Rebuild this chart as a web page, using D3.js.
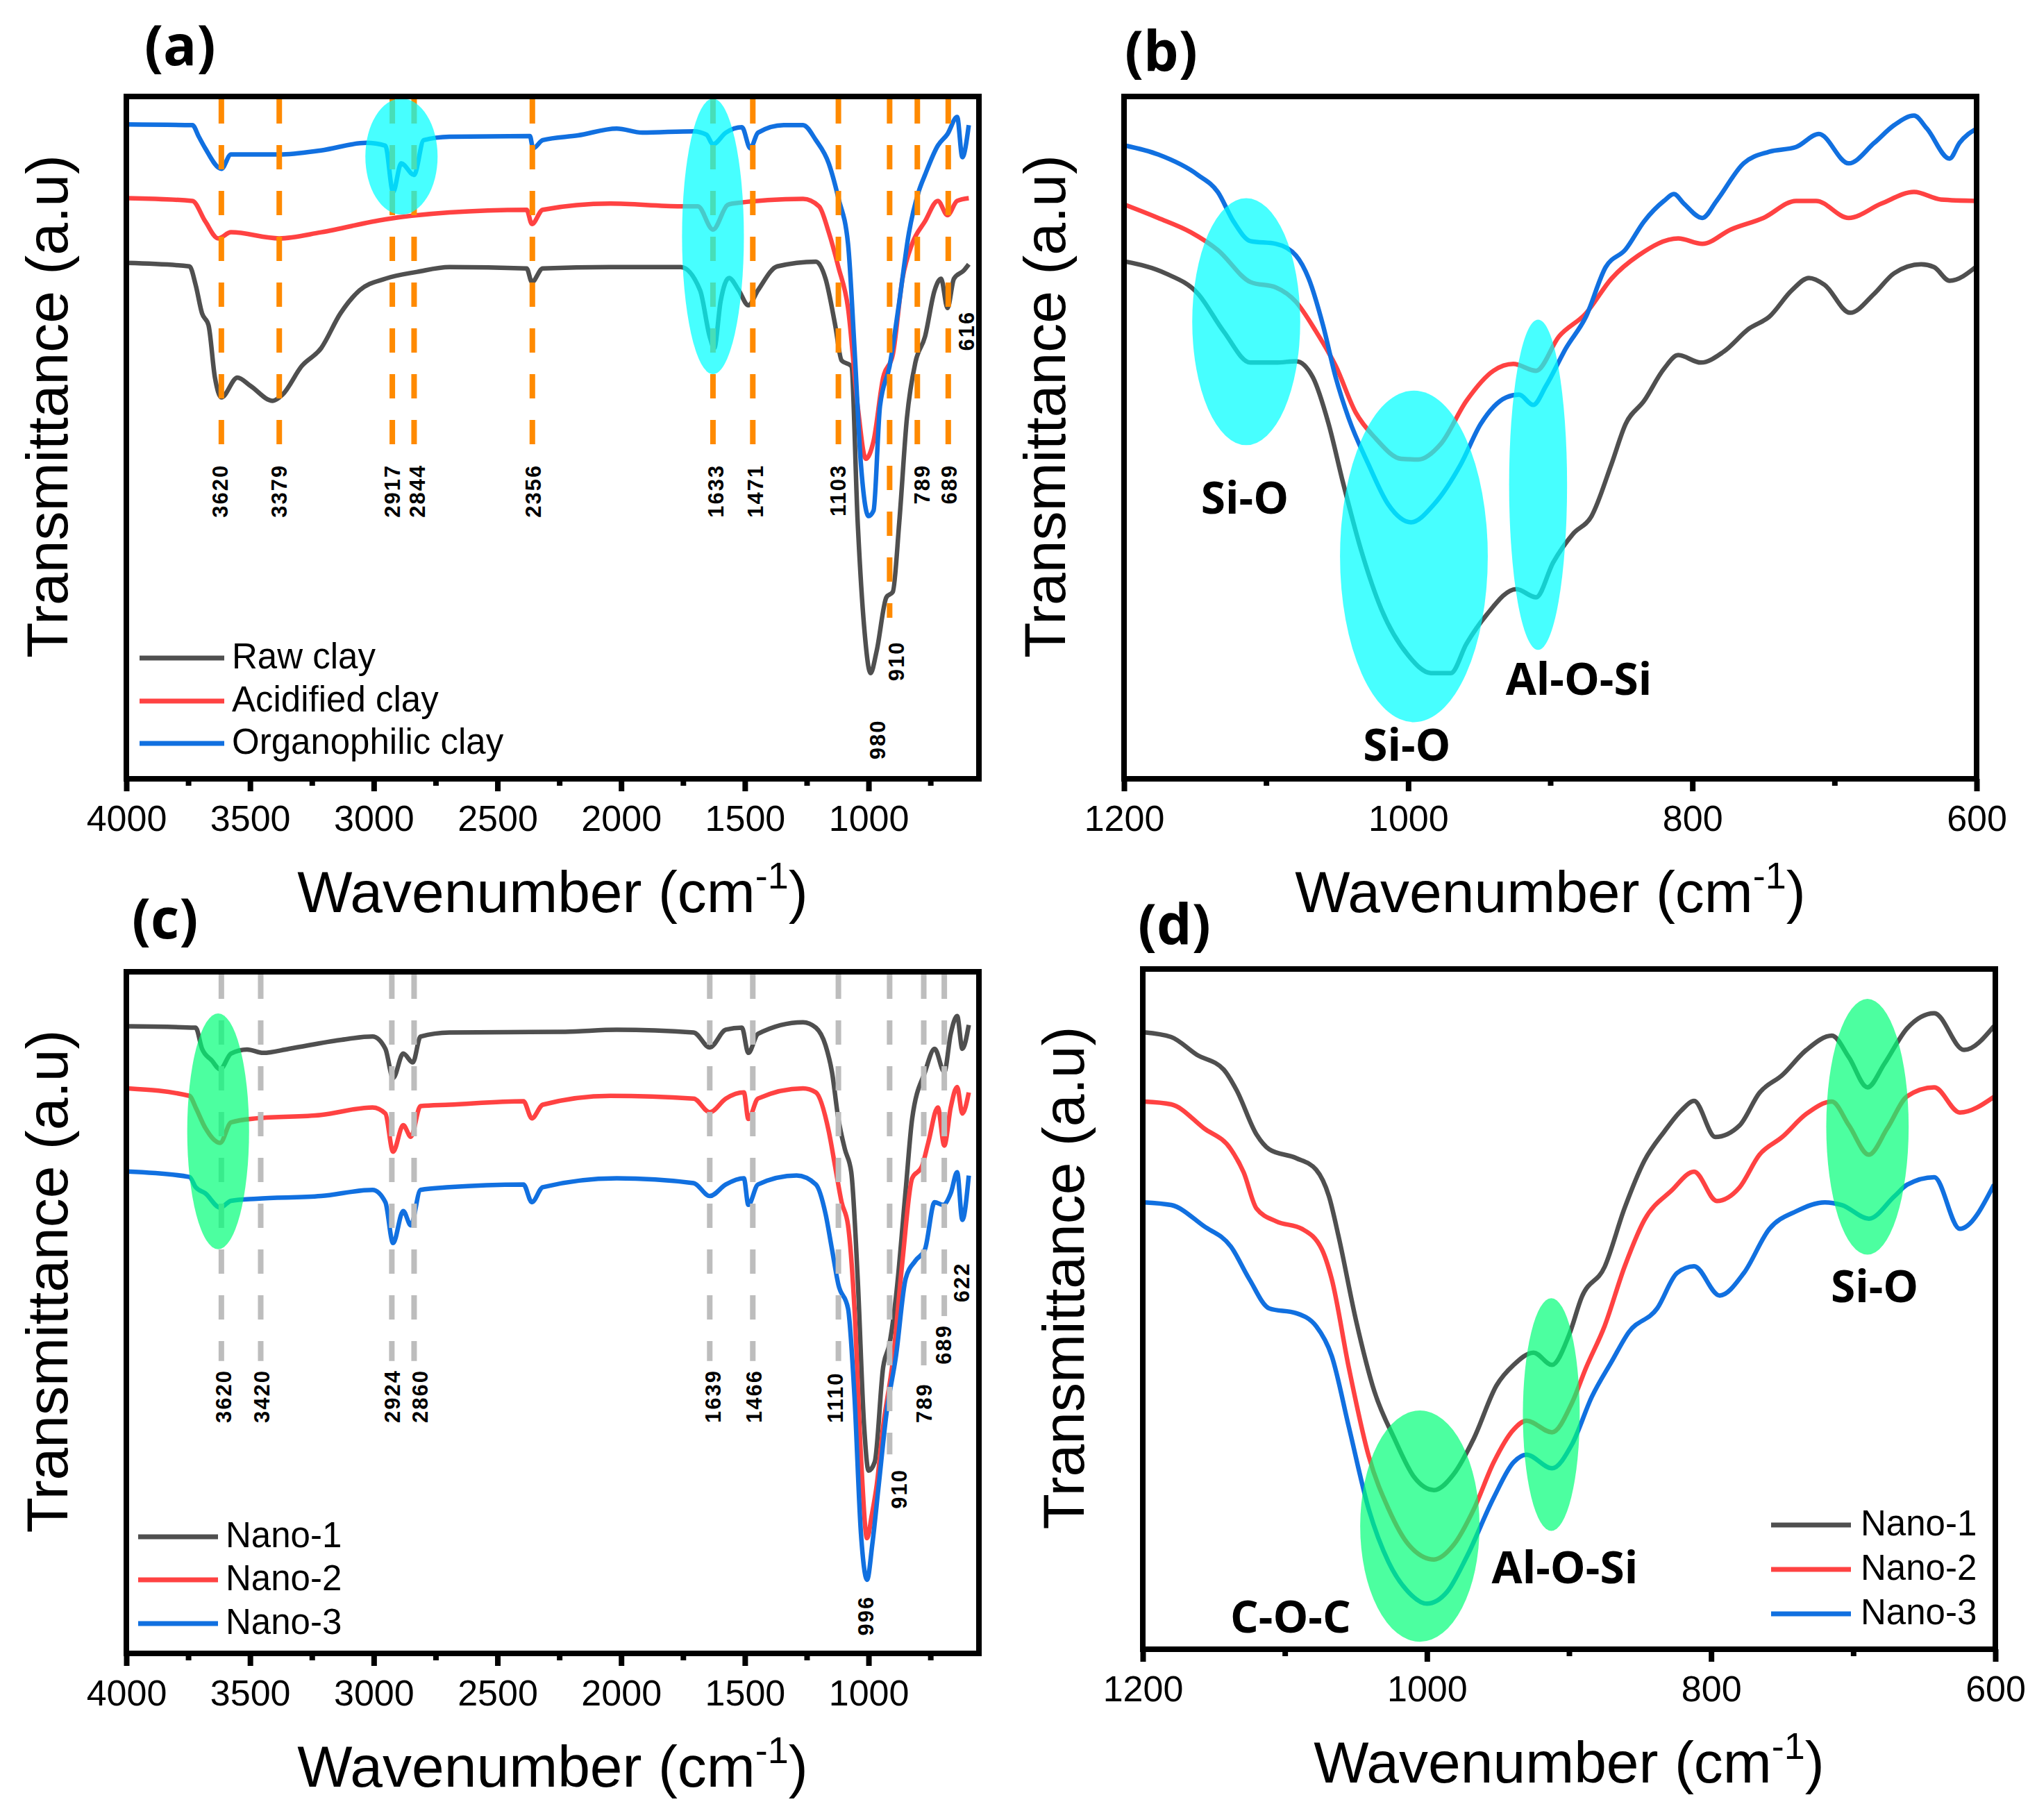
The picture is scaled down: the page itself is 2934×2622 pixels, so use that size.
<!DOCTYPE html>
<html>
<head>
<meta charset="utf-8">
<script src="https://cdnjs.cloudflare.com/ajax/libs/d3/7.8.5/d3.min.js"></script>
<style>
  body { margin: 0; background: #fff; }
  svg { display: block; }
</style>
</head>
<body>
<div id="chart"></div>
<script>
// ---------- data: [wavenumber, transmittance (a.u., 0 = frame bottom, 100 = frame top)] ----------

// (a) clays, full range
const rawClayA = [[3995,75.6],[3745,75.1],[3720,72.4],[3694,68.2],[3668,66.5],[3642,58.8],[3616,55.9],[3551,58.8],[3499,57.6],[3408,55.4],[3369,56.3],[3291,60.5],[3213,63.1],[3135,68.2],[3057,71.6],[2953,73.3],[2824,74.3],[2694,75],[2382,74.8],[2361,72.8],[2317,74.8],[2044,75],[1759,75],[1681,71.6],[1642,64.8],[1624,63.1],[1598,70],[1564,73.4],[1525,71.6],[1486,69.4],[1447,71.6],[1369,75.1],[1213,75.8],[1174,73.3],[1135,66.5],[1109,61.3],[1070,60.5],[1044,37.6],[1018,22.3],[992,15.5],[967,18.8],[928,26.6],[902,27.4],[876,37.6],[845,52.9],[811,61],[772,64.8],[733,71.6],[707,73.3],[681,69],[655,73.3],[615,74.5],[595,75.4]];
const acidClayA = [[3995,85.1],[3733,84.7],[3681,81.7],[3629,79.2],[3577,80.1],[3382,79.2],[3213,80.1],[2953,82],[2694,83],[2382,83.4],[2361,81.3],[2317,83.4],[2044,84.3],[1759,83.9],[1690,83.9],[1629,80.5],[1570,84.1],[1551,84.3],[1265,85],[1200,83.9],[1161,80.1],[1122,75],[1083,69],[1044,54.6],[1011,46.9],[980,49.5],[941,58.8],[902,62.2],[863,73.3],[824,78.4],[772,81.7],[720,84.7],[681,82.6],[642,84.7],[595,85.1]];
const orgClayA = [[3995,95.9],[3733,95.8],[3707,94.1],[3681,92.4],[3616,89.4],[3577,91.5],[3473,91.5],[3382,91.5],[3213,92.1],[3031,93.2],[2953,92.8],[2922,86],[2889,90.2],[2837,88.5],[2798,93.6],[2694,94.1],[2369,94.2],[2356,92.4],[2317,93.6],[2174,94.3],[2018,95.3],[1915,94.7],[1707,94.9],[1655,94.4],[1629,93],[1577,94.7],[1512,95.5],[1478,92.4],[1447,94.7],[1343,95.8],[1265,95.8],[1213,93.6],[1161,90.2],[1122,85.1],[1083,78.4],[1057,63.1],[1031,46.1],[1000,38.5],[980,39.3],[954,54.6],[915,60.5],[876,69.9],[837,80],[798,86],[772,88.5],[720,92.8],[681,94.5],[642,97],[621,91.1],[595,95.8]];

// (b) clays, 1200-600
const rawClayB = [[1199,75.8],[1171,74.1],[1148,71.1],[1130,65.6],[1111,61],[1093,61],[1079,61.2],[1067,58.8],[1056,52],[1046,43.5],[1033,33.4],[1019,24.9],[1000,18.1],[984,15.5],[970,15.5],[959,19.8],[945,24],[924,27.8],[910,26.6],[898,31.7],[884,35.9],[871,38.5],[857,46.1],[847,52],[834,55.4],[820,60.1],[810,62.1],[794,61],[778,62.6],[760,66],[746,67.7],[730,71.6],[718,73.4],[707,72.4],[689,68.3],[672,71.1],[658,74.1],[639,75.4],[630,75],[619,73],[600,75.1]];
const acidClayB = [[1199,84.1],[1176,82.2],[1153,80.1],[1134,77.5],[1111,72.8],[1093,72],[1079,69.9],[1065,65.6],[1051,60.5],[1037,53.7],[1023,49.9],[1005,46.9],[993,46.8],[977,49.1],[959,55.4],[940,59.8],[926,60.8],[910,59.8],[894,64.8],[875,68.2],[857,73.3],[838,76.7],[810,79.2],[793,78.4],[773,80.5],[750,82.2],[727,84.7],[713,84.7],[690,82.2],[667,84.3],[644,86],[625,84.9],[600,84.7]];
const orgClayB = [[1199,92.8],[1176,91.5],[1148,88.5],[1134,86],[1123,81.7],[1111,78.8],[1093,78.4],[1079,76.7],[1070,73.3],[1060,66.5],[1051,58.8],[1042,52.9],[1028,46.1],[1014,40.2],[998,37.6],[982,40.2],[963,46.1],[949,52],[931,55.9],[922,56.3],[912,54.8],[903,57.6],[889,63.1],[875,67.7],[861,75],[847,77.6],[834,81.7],[820,84.7],[813,85.7],[806,84.3],[793,82.2],[783,84.7],[764,90.2],[746,91.9],[727,92.6],[711,94.5],[690,90.2],[672,93.2],[658,95.8],[644,97.2],[635,95.3],[619,90.9],[612,93.2],[600,95.3]];

// (c) nanocomposites, full range
const nano1C = [[3995,92],[3720,91.8],[3694,88.7],[3655,87],[3621,85.7],[3577,88],[3512,88.6],[3447,88.1],[3343,88.7],[3135,90],[3005,90.5],[2953,88.7],[2922,84.4],[2881,88],[2842,86.7],[2811,90.5],[2694,91.1],[2226,91.2],[2018,91.5],[1707,91.1],[1642,88.9],[1577,91.5],[1512,91.8],[1486,88.1],[1447,90.9],[1265,92.6],[1213,91.8],[1174,89.2],[1148,85.3],[1122,78.4],[1096,74],[1070,70.6],[1044,55],[1018,33.3],[1000,26.8],[975,28.1],[941,42],[915,45.5],[889,52.4],[850,68],[824,78.4],[772,85.3],[733,88.7],[694,85.3],[668,90.9],[642,93.5],[621,88.7],[595,92.2]];
const nano2C = [[3995,82.9],[3745,81.8],[3720,80.1],[3681,77.1],[3621,74.9],[3577,77.9],[3473,78.5],[3213,79],[3005,80.1],[2953,79.2],[2922,73.6],[2881,77.5],[2850,75.8],[2811,80.3],[2694,80.5],[2395,81],[2361,78.5],[2317,80.5],[2044,81.8],[1707,81.4],[1642,79.4],[1577,81.4],[1504,82.3],[1486,78.4],[1447,81.4],[1265,82.9],[1213,82.3],[1161,76.6],[1135,71.4],[1109,66.2],[1083,62.8],[1057,50.6],[1031,29],[1006,16.9],[987,20.3],[967,24.7],[941,33.3],[902,42.9],[863,57.6],[824,69.7],[785,71.4],[759,74.9],[720,80.1],[694,74.5],[668,80.1],[642,83.1],[621,79.2],[595,82.3]];
const nano3C = [[3995,70.7],[3745,69.9],[3720,68.4],[3681,67.5],[3621,65.4],[3577,66.4],[3473,66.7],[3213,67.1],[3005,68],[2953,66.2],[2922,60.2],[2881,64.9],[2850,62.8],[2811,68],[2694,68.4],[2395,68.8],[2361,66.2],[2317,68.4],[2018,69.7],[1707,69],[1642,67.1],[1577,68.8],[1504,69.7],[1486,65.8],[1447,68.8],[1291,70.1],[1213,68.8],[1174,64.5],[1148,59.3],[1122,54.1],[1083,50.6],[1057,37.7],[1031,17.7],[1006,10.8],[985,16],[959,24.7],[928,35.1],[889,43.7],[850,55],[811,57.6],[772,59.3],[733,66.2],[699,65.8],[668,67.5],[642,70.6],[621,63.6],[595,70.1]];

// (d) nanocomposites, 1200-600
const nano1D = [[1199,90.7],[1180,90],[1162,87.4],[1143,85.2],[1134,82.2],[1120,75.7],[1111,73.5],[1092,72.2],[1078,70.5],[1069,66.6],[1062,60.5],[1050,48.4],[1037,37.9],[1023,31],[1009,25.3],[995,23.4],[981,25.8],[967,31],[951,38.8],[939,41.8],[925,43.6],[912,41.8],[900,46.2],[891,51.8],[875,56.2],[861,64.8],[847,71.8],[833,76.1],[821,79.2],[812,80.6],[797,75.3],[780,77],[766,81.8],[750,84.4],[733,88.1],[715,90.2],[703,87],[690,82.6],[678,86.1],[662,91.3],[643,93.5],[622,88.1],[601,91.6]];
const nano2D = [[1199,80.5],[1180,80.1],[1157,76.6],[1138,73.5],[1129,70.1],[1120,64.8],[1106,62.9],[1088,61.8],[1074,58.8],[1067,54.4],[1055,41.4],[1041,28.4],[1027,20.6],[1013,15.4],[995,13.2],[981,15.4],[967,20.6],[953,27.5],[939,32.3],[930,33.6],[912,31.9],[898,36.2],[888,41.4],[875,47.5],[861,56.2],[847,63.1],[828,67.4],[812,70.2],[796,65.9],[780,67.9],[766,72.7],[750,75.3],[733,78.7],[715,80.5],[703,77],[689,72.7],[676,76.6],[662,81.3],[643,82.6],[625,78.9],[601,81.2]];
const nano3D = [[1199,65.7],[1180,65.3],[1157,62.2],[1138,59.2],[1125,54.4],[1111,50.1],[1092,49.4],[1078,47.5],[1067,43.1],[1055,32.7],[1041,20.6],[1027,12.8],[1013,8.4],[1000,6.7],[986,8.4],[972,13.6],[953,22.3],[939,27.5],[930,28.6],[912,26.6],[898,30.1],[884,37.1],[870,42.3],[858,46.6],[838,50.1],[824,55.3],[812,56.3],[794,52],[777,55.3],[759,61.8],[740,64.4],[720,65.7],[708,65.3],[689,63.3],[671,66.6],[662,68.3],[643,69.4],[625,61.8],[601,68.3]];

// legends
const clayNames = ["Raw clay", "Acidified clay", "Organophilic clay"];
const nanoNames = ["Nano-1", "Nano-2", "Nano-3"];

// dashed marker lines: [wavenumber, value where the dashes stop]
const peakLinesA = [[3616,47.8],[3382,47.8],[2925,47.8],[2837,47.8],[2359,47.8],[1629,47.8],[1468,47.8],[1122,47.8],[915,23.6],[803,47.8],[678,47.8]];
const peakLinesC = [[3616,42.9],[3457,42.9],[2927,42.9],[2837,42.9],[1642,42.9],[1468,42.9],[1122,42.9],[915,29.2],[777,41.5],[694,49.5]];
// peak labels: [wavenumber, value, text]
const peakLabelsA = [[3623,46.1,"3620"],[3382,46.1,"3379"],[2925,46.1,"2917"],[2824,46.1,"2844"],[2356,46.1,"2356"],[1619,46.1,"1633"],[1458,46.1,"1471"],[1123,46.1,"1103"],[889,20.2,"910"],[785,46.1,"789"],[676,46.1,"689"],[964,8.7,"980"],[606,68.6,"616"]];
const peakLabelsC = [[3608,33.8,"3620"],[3452,33.8,"3420"],[2925,33.8,"2924"],[2813,33.8,"2860"],[1629,33.8,"1639"],[1465,33.8,"1466"],[1135,33.8,"1110"],[876,21.2,"910"],[777,33.8,"789"],[699,42.4,"689"],[1011,2.6,"996"],[624,51.5,"622"]];

// highlight ellipses: [centre wavenumber, centre value, half-width (cm-1), half-height (a.u.)]
const cyanA = [[2888,91.2,146,8.5],[1629,79.5,125,20.2]];
const cyanB = [[1114,67,38,18.1],[996,32.6,52,24.3],[908.6,43.1,20.4,24.2]];
const greenC = [[3629,76.6,125,17.3]];
const greenD = [[1005,18.1,42,17],[912.5,34.5,20,17.1],[690,76.8,29,18.8]];

// band assignments: [wavenumber, value (baseline), text]
const bandsB = [[1115,38.9,"Si-O"],[1001,2.6,"Si-O"],[880,12.3,"Al-O-Si"]];
const bandsD = [[1096,2.5,"C-O-C"],[903,9.7,"Al-O-Si"],[685,51,"Si-O"]];

// axis ticks
const fullMajor = [4000,3500,3000,2500,2000,1500,1000];
const fullMinor = [3750,3250,2750,2250,1750,1250,750];
const zoomMajor = [1200,1000,800,600];
const zoomMinor = [1100,900,700];

// ---------- drawing ----------
const W = 2934, H = 2622;
const GRAY = "#4f4f4f", RED = "#ff4242", BLUE = "#1170e0";
const SANS = "Arial, 'Liberation Sans', sans-serif";
const BOLD = "'Open Sans', 'Noto Sans', sans-serif";

const svg = d3.select("#chart").append("svg")
    .attr("width", W)
    .attr("height", H);
svg.append("rect").attr("width", W).attr("height", H).attr("fill", "#fff");

const panels = [
  {tag: "(a)", tagX: 208, tagY: 94, left: 182, right: 1410, top: 139, bottom: 1122, domain: [4000, 554],
   major: fullMajor, minor: fullMinor, series: [rawClayA, acidClayA, orgClayA],
   lines: peakLinesA, lineColor: "#ff8a00", labels: peakLabelsA, labelAnchor: "end",
   blobs: cyanA, blobColor: "#00ffff", blobOpacity: 0.72,
   legend: {names: clayNames, x1: 201, x2: 323, tx: 334, ys: [948, 1010, 1071]}},
  {tag: "(b)", tagX: 1620, tagY: 102, left: 1619, right: 2847, top: 139, bottom: 1122, domain: [1200, 600],
   major: zoomMajor, minor: zoomMinor, series: [rawClayB, acidClayB, orgClayB],
   blobs: cyanB, blobColor: "#00ffff", blobOpacity: 0.72, bands: bandsB},
  {tag: "(c)", tagX: 190, tagY: 1352, left: 182, right: 1410, top: 1400, bottom: 2382, domain: [4000, 554],
   major: fullMajor, minor: fullMinor, series: [nano1C, nano2C, nano3C],
   lines: peakLinesC, lineColor: "#bdbdbd", labels: peakLabelsC, labelAnchor: "start",
   blobs: greenC, blobColor: "#00ff78", blobOpacity: 0.7,
   legend: {names: nanoNames, x1: 199, x2: 314, tx: 325, ys: [2214, 2276, 2339]}},
  {tag: "(d)", tagX: 1639, tagY: 1360, left: 1646, right: 2874, top: 1396, bottom: 2376, domain: [1200, 600],
   major: zoomMajor, minor: zoomMinor, series: [nano1D, nano2D, nano3D],
   blobs: greenD, blobColor: "#00ff78", blobOpacity: 0.7, bands: bandsD,
   legend: {names: nanoNames, x1: 2551, x2: 2666, tx: 2680, ys: [2197, 2261, 2325]}}
];

const seriesColors = [GRAY, RED, BLUE];

panels.forEach(p => {
  const x = d3.scaleLinear().domain(p.domain).range([p.left, p.right]);
  const y = d3.scaleLinear().domain([0, 100]).range([p.bottom, p.top]);
  const g = svg.append("g");

  // spectra
  const line = d3.line()
      .x(d => x(d[0]))
      .y(d => y(d[1]))
      .curve(d3.curveMonotoneX);
  p.series.forEach((s, i) => {
    g.append("path")
        .datum(s)
        .attr("d", line)
        .attr("fill", "none")
        .attr("stroke", seriesColors[i])
        .attr("stroke-width", 6.5)
        .attr("stroke-linejoin", "round");
  });

  // dashed peak markers
  if (p.lines) {
    g.append("g").selectAll("line")
        .data(p.lines)
        .enter()
        .append("line")
        .attr("x1", d => x(d[0]))
        .attr("x2", d => x(d[0]))
        .attr("y1", p.top + 4)
        .attr("y2", d => y(d[1]))
        .attr("stroke", p.lineColor)
        .attr("stroke-width", 8)
        .attr("stroke-dasharray", "35,31");
  }

  // peak labels (rotated)
  if (p.labels) {
    g.append("g").selectAll("text")
        .data(p.labels)
        .enter()
        .append("text")
        .attr("transform", d => `translate(${x(d[0])},${y(d[1])}) rotate(-90)`)
        .attr("dy", "0.36em")
        .attr("text-anchor", p.labelAnchor)
        .attr("font-family", SANS)
        .attr("font-weight", "bold")
        .attr("font-size", 31)
        .attr("letter-spacing", 2)
        .attr("fill", "#000")
        .text(d => d[2]);
  }

  // highlight ellipses
  g.append("g").selectAll("ellipse")
      .data(p.blobs)
      .enter()
      .append("ellipse")
      .attr("cx", d => x(d[0]))
      .attr("cy", d => y(d[1]))
      .attr("rx", d => Math.abs(x(d[0] + d[2]) - x(d[0])))
      .attr("ry", d => y(0) - y(d[3]))
      .attr("fill", p.blobColor)
      .attr("opacity", p.blobOpacity);

  // band assignment text
  if (p.bands) {
    g.append("g").selectAll("text")
        .data(p.bands)
        .enter()
        .append("text")
        .attr("x", d => x(d[0]))
        .attr("y", d => y(d[1]))
        .attr("text-anchor", "middle")
        .attr("font-family", BOLD)
        .attr("font-weight", "bold")
        .attr("font-size", 64)
        .attr("fill", "#000")
        .text(d => d[2]);
  }

  // frame
  g.append("rect")
      .attr("x", p.left)
      .attr("y", p.top)
      .attr("width", p.right - p.left)
      .attr("height", p.bottom - p.top)
      .attr("fill", "none")
      .attr("stroke", "#000")
      .attr("stroke-width", 8);

  // bottom axis
  const ax = g.append("g")
      .attr("transform", `translate(0,${p.bottom})`)
      .call(d3.axisBottom(x).tickValues(p.major).tickSize(18).tickSizeOuter(0).tickPadding(20).tickFormat(d3.format("d")));
  ax.select(".domain").remove();
  ax.attr("font-family", SANS).attr("font-size", 52);
  ax.selectAll(".tick line").attr("stroke", "#000").attr("stroke-width", 8);
  ax.selectAll(".tick text").attr("fill", "#000");

  const minor = g.append("g")
      .attr("transform", `translate(0,${p.bottom})`)
      .call(d3.axisBottom(x).tickValues(p.minor).tickSize(10).tickSizeOuter(0).tickFormat(""));
  minor.select(".domain").remove();
  minor.selectAll(".tick line").attr("stroke", "#000").attr("stroke-width", 8);

  // axis titles
  const xt = g.append("text")
      .attr("x", (p.left + p.right) / 2)
      .attr("y", p.bottom + 192)
      .attr("text-anchor", "middle")
      .attr("font-family", SANS)
      .attr("font-size", 84)
      .attr("fill", "#000");
  xt.append("tspan").text("Wavenumber (cm");
  xt.append("tspan").attr("dy", -34).attr("font-size", 54).text("-1");
  xt.append("tspan").attr("dy", 34).text(")");

  g.append("text")
      .attr("transform", `translate(${p.left - 85},${(p.top + p.bottom) / 2 - 45}) rotate(-90)`)
      .attr("text-anchor", "middle")
      .attr("font-family", SANS)
      .attr("font-size", 84)
      .attr("fill", "#000")
      .text("Transmittance (a.u)");

  // panel tag
  g.append("text")
      .attr("x", p.tagX)
      .attr("y", p.tagY)
      .attr("font-family", BOLD)
      .attr("font-weight", "bold")
      .attr("font-size", 80)
      .attr("fill", "#000")
      .text(p.tag);

  // legend
  if (p.legend) {
    const L = p.legend;
    L.names.forEach((name, i) => {
      g.append("line")
          .attr("x1", L.x1).attr("x2", L.x2)
          .attr("y1", L.ys[i]).attr("y2", L.ys[i])
          .attr("stroke", seriesColors[i])
          .attr("stroke-width", 7);
      g.append("text")
          .attr("x", L.tx)
          .attr("y", L.ys[i] + 15)
          .attr("font-family", SANS)
          .attr("font-size", 51)
          .attr("fill", "#000")
          .text(name);
    });
  }
});
</script>
</body>
</html>
